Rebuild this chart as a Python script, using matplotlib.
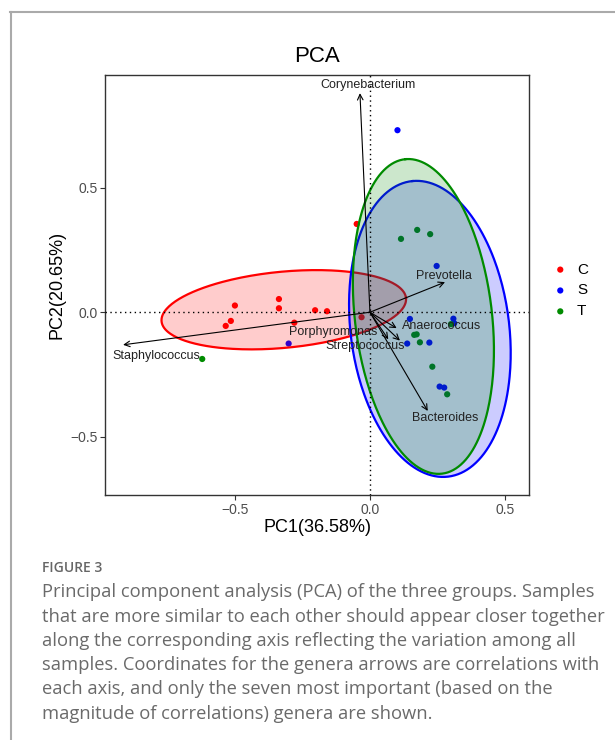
import numpy as np
import matplotlib
matplotlib.use('Agg')
import matplotlib.pyplot as plt
from matplotlib.lines import Line2D

# sample scores (PC1, PC2) per group
C_x = [-0.500, -0.337, -0.337, -0.203, -0.159, -0.049, -0.534, -0.515, -0.280, -0.031]
C_y = [0.027, 0.053, 0.016, 0.008, 0.004, 0.355, -0.055, -0.035, -0.042, -0.020]
S_x = [0.102, 0.247, -0.301, 0.148, 0.309, 0.312, 0.138, 0.220, 0.258, 0.275]
S_y = [0.732, 0.186, -0.126, -0.027, -0.026, -0.044, -0.126, -0.122, -0.299, -0.303]
T_x = [0.115, 0.175, 0.223, -0.621, 0.164, 0.173, 0.185, 0.231, 0.286, 0.300]
T_y = [0.295, 0.331, 0.314, -0.188, -0.091, -0.089, -0.121, -0.219, -0.330, -0.048]

groups = ['C', 'S', 'T']
colors = ['#ff0000', '#0000ff', '#008b00']

# confidence ellipses: centre x, centre y, semi-major, semi-minor, angle (deg)
ell_cx = [-0.319, 0.222, 0.198]
ell_cy = [0.010, -0.067, -0.017]
ell_a = [0.455, 0.598, 0.636]
ell_b = [0.153, 0.294, 0.254]
ell_ang = [6.0, 96.2, 96.0]

# genera arrows (correlations) and label positions
genera = ['Corynebacterium', 'Prevotella', 'Staphylococcus', 'Bacteroides',
          'Anaerococcus', 'Streptococcus', 'Porphyromonas']
arrow_x = [-0.037, 0.278, -0.914, 0.214, 0.099, 0.111, 0.068]
arrow_y = [0.881, 0.121, -0.131, -0.397, -0.064, -0.114, -0.109]
label_x = [-0.007, 0.274, -0.790, 0.278, 0.265, -0.019, -0.137]
label_y = [0.913, 0.147, -0.178, -0.426, -0.055, -0.134, -0.080]

caption_head = 'FIGURE 3'
caption_lines = [
    'Principal component analysis (PCA) of the three groups. Samples',
    'that are more similar to each other should appear closer together',
    'along the corresponding axis reflecting the variation among all',
    'samples. Coordinates for the genera arrows are correlations with',
    'each axis, and only the seven most important (based on the',
    'magnitude of correlations) genera are shown.',
]

plt.rcParams['font.family'] = ['Liberation Sans', 'DejaVu Sans']

W, H = 615, 740
fig = plt.figure(figsize=(W / 100, H / 100), dpi=100)
ax = fig.add_axes([105 / W, 1 - 495 / H, 424 / W, 420 / H])

xs = [C_x, S_x, T_x]
ys = [C_y, S_y, T_y]
handles = []
for i, g in enumerate(groups):
    h = ax.scatter(xs[i], ys[i], s=20, color=colors[i], edgecolors='none', zorder=2, label=g)
    handles.append(h)

t = np.linspace(0, 2 * np.pi, 300)
for i in range(3):
    phi = np.radians(ell_ang[i])
    ex = ell_cx[i] + ell_a[i] * np.cos(t) * np.cos(phi) - ell_b[i] * np.sin(t) * np.sin(phi)
    ey = ell_cy[i] + ell_a[i] * np.cos(t) * np.sin(phi) + ell_b[i] * np.sin(t) * np.cos(phi)
    ax.fill(ex, ey, facecolor=colors[i], alpha=0.2, edgecolor='none', zorder=3)
    ax.plot(ex, ey, color=colors[i], lw=1.6, zorder=3)

ax.axhline(0, color='black', lw=1, ls=(0, (1, 2.5)), zorder=4)
ax.axvline(0, color='black', lw=1, ls=(0, (1, 2.5)), zorder=4)

for i, name in enumerate(genera):
    ax.annotate('', xy=(arrow_x[i], arrow_y[i]), xytext=(0, 0),
                arrowprops=dict(arrowstyle='->', color='black', lw=0.8,
                                shrinkA=0, shrinkB=0, mutation_scale=10),
                zorder=5)
    ax.text(label_x[i], label_y[i], name, ha='center', va='center',
            fontsize=9, color='#222222', zorder=6)

ax.set_xlim(-0.981, 0.589)
ax.set_ylim(-0.735, 0.954)
ax.set_xticks([-0.5, 0.0, 0.5])
ax.set_yticks([-0.5, 0.0, 0.5])
ax.set_xticklabels(['\u22120.5', '0.0', '0.5'])
ax.set_yticklabels(['\u22120.5', '0.0', '0.5'])
ax.tick_params(length=3.5, width=0.8, pad=2, labelsize=10, colors='#333333',
               labelcolor='#4d4d4d')
for sp in ax.spines.values():
    sp.set_color('#333333')
    sp.set_linewidth(1.0)

fig.text(317 / W, 1 - 57 / H, 'PCA', ha='center', va='center', fontsize=16, color='black')
fig.text(317 / W, 1 - 527 / H, 'PC1(36.58%)', ha='center', va='center', fontsize=13)
fig.text(57 / W, 1 - 285 / H, 'PC2(20.65%)', ha='center', va='center', fontsize=13, rotation=90)

fig.legend(handles=handles, labels=groups, loc='center left',
           bbox_to_anchor=(545 / W, 1 - 290.5 / H), frameon=False, fontsize=11,
           handletextpad=0.6, labelspacing=0.45, handlelength=1.0, borderpad=0,
           scatterpoints=1)

# page frame
fig.add_artist(Line2D([10 / W, 1], [1 - 12 / H, 1 - 12 / H], color='#aaaaaa', lw=1.5))
fig.add_artist(Line2D([11 / W, 11 / W], [0, 1 - 12 / H], color='#aaaaaa', lw=1.5))

fig.text(42 / W, 1 - 568 / H, caption_head, ha='left', va='center', fontsize=10,
         color='#666666', family=['Open Sans', 'DejaVu Sans'], fontweight='semibold')
cap_y = [592, 617, 641, 665, 689, 714]
for yy, line in zip(cap_y, caption_lines):
    fig.text(42 / W, 1 - yy / H, line, ha='left', va='center', fontsize=13.2,
             color='#6a6a6a', family=['Open Sans', 'DejaVu Sans'])

fig.savefig('out.png', dpi=100)
